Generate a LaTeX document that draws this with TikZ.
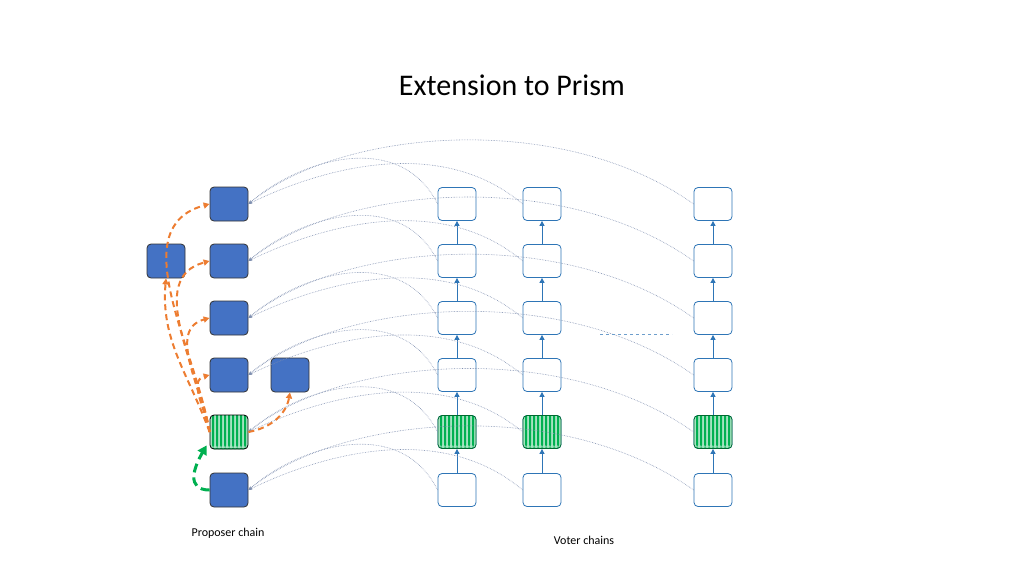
\documentclass[tikz,border=0pt]{standalone}
\usepackage{fontspec}
\setmainfont{Carlito}
\usetikzlibrary{arrows.meta}
\definecolor{pblue}{HTML}{4472C4}
\definecolor{vblue}{HTML}{2E75B6}
\definecolor{orng}{HTML}{ED7D31}
\definecolor{grn}{HTML}{00B050}
\definecolor{dot}{HTML}{8090B0}
\begin{document}
\begin{tikzpicture}[x=1pt,y=-1pt,
  prop/.style={draw=black!80,fill=pblue,rounded corners=4pt,minimum width=38pt,minimum height=34pt,line width=0.8pt},
  vote/.style={draw=vblue,fill=white,rounded corners=4pt,minimum width=38pt,minimum height=33pt,line width=0.8pt},
  stripe/.style={fill=grn!35,path picture={\foreach \i in {0,...,8}{\fill[grn] ([xshift=2pt+\i*4pt]path picture bounding box.south west) rectangle ++(2.2pt,40pt);}}},
  vref/.style={dot,densely dotted,line width=0.6pt,-{Stealth[length=4pt]}},
  oarr/.style={orng,line width=2pt,dash pattern=on 6pt off 4pt,-{Triangle[length=6pt,width=6pt]}},
  varr/.style={vblue,line width=1pt,-{Triangle[length=5pt,width=5pt]}}]
\useasboundingbox (0,0) rectangle (1024,576);
\node (title) at (512,85) {\fontsize{30}{36}\selectfont Extension to Prism};
% voter chains
\foreach \c/\x in {1/457,2/542,3/713}{
  \foreach \r/\y in {1/204,2/261,3/318,4/375,5/432,6/490}{
    \node[vote] (v\c\r) at (\x,\y) {};
  }
  \node[vote,stripe,draw=grn!60!black] (v\c5) at (\x,432) {};
  \foreach \r [evaluate=\r as \s using int(\r+1)] in {1,...,5}{\draw[varr] (v\c\s) -- (v\c\r);}
}
% proposer chain
\foreach \r/\y in {1/204,2/261,3/318,4/375,6/490}{\node[prop] (p\r) at (229,\y) {};}
\node[prop,stripe,draw=black] (p5) at (229,432) {};
\node[prop] (pa) at (166,261) {};
\node[prop] (pb) at (290,375) {};
% references
\foreach \r in {1,...,6}{
  \draw[vref] (v1\r.west) .. controls (400,{204+(\r-1)*57.2-75}) and (300,{204+(\r-1)*57.2-45}) .. (p\r.east);
  \draw[vref] (v2\r.west) .. controls (440,{204+(\r-1)*57.2-70}) and (320,{204+(\r-1)*57.2-35}) .. (p\r.east);
  \draw[vref] (v3\r.west) .. controls (560,{204+(\r-1)*57.2-95}) and (340,{204+(\r-1)*57.2-75}) .. (p\r.east);
}
\draw[dashed,vblue!70,line width=1pt] (600,334) -- (672,334);
% orange
\foreach \t in {1,2,3,4}{\draw[oarr] (p5.west) to[out=100,in=195] (p\t.west);}
\draw[oarr] (p5.west) to[out=110,in=-95] (pa.south);
\draw[oarr] (p5.east) to[out=10,in=-100] (pb.south);
% green
\draw[grn,line width=3pt,dash pattern=on 9pt off 5pt,-{Triangle[length=9pt,width=10pt]}] (p6.west) to[out=180,in=-120,looseness=1.4] ([xshift=-3pt,yshift=4pt]p5.south west);
\node (lp) at (228,533) {\fontsize{12}{14}\selectfont Proposer chain};
\node (lv) at (584,540) {\fontsize{12}{14}\selectfont Voter chains};
\end{tikzpicture}
\end{document}
